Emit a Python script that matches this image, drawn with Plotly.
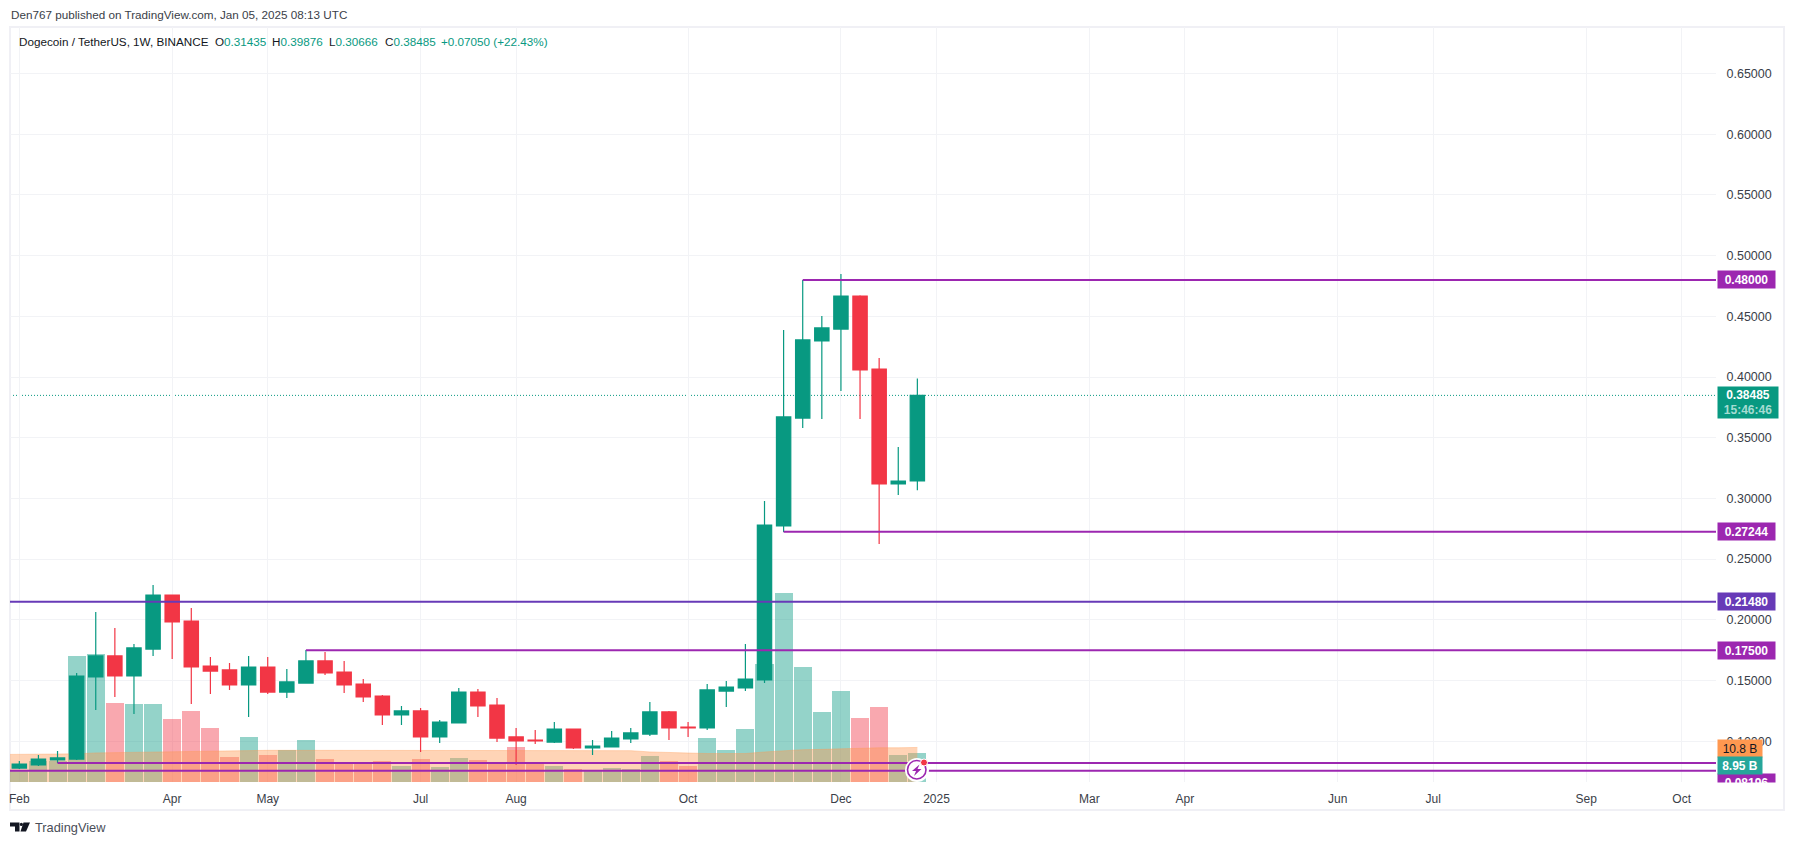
import pandas as pd
import plotly.graph_objects as go

# weekly DOGE/USDT candles
week_start = "2024-02-05"
opens = [0.0779, 0.0804, 0.0845, 0.0853, 0.1529, 0.1702, 0.1537, 0.1759, 0.2204, 0.1990, 0.1619, 0.1587,
         0.1463, 0.1611, 0.1405, 0.1479, 0.1661, 0.1570, 0.1471, 0.1372, 0.1216, 0.1249, 0.1035, 0.1150,
         0.1405, 0.1298, 0.1035, 0.1010, 0.0993, 0.1100, 0.0944, 0.0952, 0.1018, 0.1059, 0.1241, 0.1117,
         0.1109, 0.1413, 0.1438, 0.1504, 0.2773, 0.3662, 0.4297, 0.4395, 0.4667, 0.4066, 0.3119, 0.31435]
highs = [0.0837, 0.0886, 0.0919, 0.1562, 0.2064, 0.1932, 0.1801, 0.2287, 0.2206, 0.2097, 0.1694, 0.1644,
         0.1702, 0.1694, 0.1595, 0.1751, 0.1735, 0.1661, 0.1512, 0.1381, 0.1290, 0.1274, 0.1175, 0.1438,
         0.1430, 0.1356, 0.1109, 0.1092, 0.1158, 0.1100, 0.1010, 0.1084, 0.1109, 0.1323, 0.1249, 0.1158,
         0.1471, 0.1496, 0.1801, 0.2979, 0.4387, 0.4799, 0.4502, 0.4848, 0.4674, 0.4157, 0.3423, 0.39876]
lows = [0.0771, 0.0795, 0.0820, 0.0845, 0.1257, 0.1364, 0.1224, 0.1702, 0.1677, 0.1306, 0.1389, 0.1422,
        0.1199, 0.1389, 0.1356, 0.1479, 0.1545, 0.1397, 0.1323, 0.1133, 0.1133, 0.0911, 0.0985, 0.1150,
        0.1199, 0.0993, 0.0804, 0.0977, 0.0985, 0.0936, 0.0886, 0.0952, 0.0985, 0.1043, 0.1010, 0.1035,
        0.1092, 0.1282, 0.1413, 0.1479, 0.2723, 0.3580, 0.3654, 0.3885, 0.3654, 0.2624, 0.3028, 0.30666]
closes = [0.0812, 0.0853, 0.0862, 0.1537, 0.1702, 0.1537, 0.1768, 0.2204, 0.1982, 0.1611, 0.1578, 0.1463,
          0.1611, 0.1405, 0.1488, 0.1661, 0.1562, 0.1463, 0.1364, 0.1216, 0.1249, 0.1035, 0.1158, 0.1405,
          0.1290, 0.1026, 0.1002, 0.1002, 0.1100, 0.0944, 0.0960, 0.1026, 0.1068, 0.1241, 0.1109, 0.1109,
          0.1422, 0.1446, 0.1512, 0.2781, 0.3671, 0.4305, 0.4404, 0.4667, 0.4058, 0.3119, 0.3143, 0.38485]

# volume in billions, and its moving average (one week more, starts off screen)
volumes = [3.75, 6.5, 6.5, 39.3, 39.9, 24.6, 24.3, 24.3, 19.6, 22.1, 16.8, 7.7,
           14.0, 8.3, 9.9, 13.0, 7.1, 5.9, 5.9, 6.5, 4.9, 7.1, 4.6, 7.4,
           6.8, 5.9, 10.8, 5.9, 4.9, 4.0, 3.5, 4.3, 4.0, 8.0, 6.5, 4.9,
           13.6, 9.9, 16.5, 36.8, 59.0, 36.1, 21.8, 28.6, 19.9, 23.6, 8.3, 8.95]
volume_ma = [8.6, 8.6, 8.6, 8.6, 8.8, 9.1, 9.2, 9.4, 9.5, 9.5, 9.6, 9.8, 9.8,
             9.9, 9.9, 9.9, 9.9, 9.9, 9.9, 9.9, 9.9, 9.9, 9.9, 9.9, 9.9, 9.9, 9.9,
             9.9, 9.9, 9.9, 9.9, 9.9, 9.9, 9.8, 9.4, 9.2, 9.0, 8.9, 8.9, 8.9,
             9.4, 9.8, 10.1, 10.2, 10.4, 10.5, 10.7, 10.7, 10.8]

x_ticks = ["2024-02-05", "2024-04-01", "2024-05-06", "2024-07-01", "2024-08-05", "2024-10-07", "2024-12-02",
           "2025-01-06", "2025-03-03", "2025-04-07", "2025-06-02", "2025-07-07", "2025-09-01", "2025-10-06"]
x_labels = ["Feb", "Apr", "May", "Jul", "Aug", "Oct", "Dec", "2025", "Mar", "Apr", "Jun", "Jul", "Sep", "Oct"]
price_ticks = [0.10, 0.15, 0.20, 0.25, 0.30, 0.35, 0.40, 0.45, 0.50, 0.55, 0.60, 0.65]

# horizontal levels: price, first week, colour
level_prices = [0.48, 0.27244, 0.2148, 0.175, 0.08196, 0.0757]
level_starts = ["2024-11-18", "2024-11-11", None, "2024-05-20", "2024-02-19", None]
level_colors = ["#9c27b0", "#9c27b0", "#673ab7", "#9c27b0", "#9c27b0", "#9c27b0"]
level_tags = ["0.48000", "0.27244", "0.21480", "0.17500", None, None]

last_close = 0.38485
UP = "#089981"
DOWN = "#f23645"
TEXT = "#3a3e48"
FONT = "Liberation Sans"
X_MIN, X_MAX = "2024-02-01 14:00", "2025-10-18 14:00"

W, H = 1794, 845
L, R, T, B = 10, 1716, 27, 782


def fx(px):
    return (px - L) / (R - L)


def fy(py):
    return (B - py) / (B - T)


def poly(points):
    return "M" + " L".join(f"{fx(a):.5f},{fy(b):.5f}" for a, b in points) + " Z"


dates = pd.date_range(week_start, periods=len(closes), freq="7D")
ma_dates = pd.date_range("2024-01-29", periods=len(volume_ma), freq="7D")
bar_colors = ["rgba(8,153,129,0.43)" if c >= o else "rgba(242,54,69,0.43)" for o, c in zip(opens, closes)]

fig = go.Figure()
fig.add_trace(go.Bar(x=dates, y=volumes, width=7 * 86400000 * 0.945, marker=dict(color=bar_colors, line_width=0),
                     yaxis="y", showlegend=False))
fig.add_trace(go.Scatter(x=ma_dates, y=volume_ma, mode="lines", line=dict(color="rgba(255,152,80,0.35)", width=1),
                         fill="tozeroy", fillcolor="rgba(255,152,80,0.42)", yaxis="y", showlegend=False))
fig.add_trace(go.Candlestick(x=dates, open=opens, high=highs, low=lows, close=closes, yaxis="y2", showlegend=False,
                             whiskerwidth=0,
                             increasing=dict(line=dict(color=UP, width=1.2), fillcolor=UP),
                             decreasing=dict(line=dict(color=DOWN, width=1.2), fillcolor=DOWN)))

# last price line sits under the candles
fig.add_shape(type="line", xref="paper", yref="y2", x0=0, x1=1, y0=last_close, y1=last_close, layer="below",
              line=dict(color=UP, width=1, dash="1px,2px"))
for price, start, color in zip(level_prices, level_starts, level_colors):
    fig.add_shape(type="line", xref="x", yref="y2", x0=start or X_MIN, x1=X_MAX, y0=price, y1=price,
                  line=dict(color=color, width=2))

# frame around the chart
fig.add_shape(type="rect", xref="paper", yref="paper", x0=fx(10), x1=fx(1784), y0=fy(27), y1=fy(810),
              layer="below", line=dict(color="#f0f0f5", width=2))

# alert icon on the last bar
fig.add_shape(type="circle", xref="paper", yref="paper", x0=fx(905), x1=fx(929), y0=fy(782), y1=fy(758),
              fillcolor="white", line=dict(color="white", width=0))
fig.add_shape(type="circle", xref="paper", yref="paper", x0=fx(907.5), x1=fx(926), y0=fy(779), y1=fy(760.5),
              fillcolor="white", line=dict(color="#9c27b0", width=1.6))
fig.add_shape(type="path", xref="paper", yref="paper", line=dict(width=0), fillcolor="#9c27b0",
              path=poly([(919.5, 764.5), (912, 771), (916, 771), (914, 776), (921.5, 769), (917.5, 769)]))
fig.add_shape(type="circle", xref="paper", yref="paper", x0=fx(920.5), x1=fx(927.5), y0=fy(766), y1=fy(759),
              fillcolor="#f23645", line=dict(color="white", width=1))

# TradingView mark
logo = [[(10, 822.5), (19.5, 822.5), (19.5, 831.5), (15, 831.5), (15, 826.5), (10, 826.5)],
        [(23.5, 822.5), (30, 822.5), (26, 831.5), (20.5, 831.5)]]
for part in logo:
    fig.add_shape(type="path", xref="paper", yref="paper", path=poly(part), fillcolor="#131722", line=dict(width=0))
fig.add_shape(type="circle", xref="paper", yref="paper", x0=fx(19.8), x1=fx(23), y0=fy(826), y1=fy(822.8),
              fillcolor="#131722", line=dict(width=0))


def text_at(px, py, text, color=TEXT, size=11.7):
    fig.add_annotation(xref="paper", yref="paper", x=fx(px), y=fy(py), xanchor="left", yanchor="middle",
                       text=text, showarrow=False, font=dict(family=FONT, size=size, color=color),
                       borderpad=0, align="left")


def tag(py, text, bg, width=55, height=15, color="white", bold=True):
    fig.add_annotation(xref="paper", yref="paper", x=fx(1717), y=fy(py), xanchor="left", yanchor="middle",
                       text=f"<b>{text}</b>" if bold else text, showarrow=False, bgcolor=bg, width=width,
                       height=height, borderpad=1, align="center", valign="middle",
                       font=dict(family=FONT, size=12, color=color))


text_at(10, 14.5, "Den767 published on TradingView.com, Jan 05, 2025 08:13 UTC")
text_at(18, 41.5, "Dogecoin / TetherUS, 1W, BINANCE", color="#131722")
for px, letter, value in [(213.5, "O", "0.31435"), (271, "H", "0.39876"), (328, "L", "0.30666"), (384, "C", "0.38485")]:
    text_at(px, 41.5, f'{letter}<span style="color:{UP}">{value}</span>', color="#131722")
text_at(440, 41.5, "+0.07050 (+22.43%)", color=UP)
text_at(34, 827, "TradingView", color="#4a4e58", size=12.8)

# price tags on the scale
for price, label, color in zip(level_prices, level_tags, level_colors):
    if label:
        tag(B - (price - 0.06639) * 1214, label, color)
tag(402.3, '0.38485<br><span style="color:#a5dcd2">15:46:46</span>', UP, width=58, height=29)
tag(782.5, "0.08196", "#9c27b0")
fig.add_annotation(xref="paper", yref="paper", x=fx(1716), y=fy(782), xanchor="left", yanchor="top", text=" ",
                   showarrow=False, bgcolor="white", width=60, height=18, borderpad=0)
tag(748.5, "10.8 B", "#ff9850", width=42, color="#131722", bold=False)
tag(765, "8.95 B", "#26a69a", width=42)

fig.update_layout(
    width=W, height=H, autosize=False,
    margin=dict(l=L, r=W - R, t=T, b=H - B),
    paper_bgcolor="white", plot_bgcolor="white",
    boxgap=0.25, boxgroupgap=0, bargap=0,
    font=dict(family=FONT, size=12, color=TEXT),
    xaxis=dict(type="date", range=[X_MIN, X_MAX], rangeslider=dict(visible=False), tickmode="array",
               tickvals=x_ticks, ticktext=x_labels, gridcolor="#f2f3f6", gridwidth=1, showline=False, zeroline=False,
               ticks="outside", ticklen=6, tickcolor="rgba(0,0,0,0)", tickfont=dict(family=FONT, size=12, color=TEXT)),
    yaxis=dict(range=[0, 236], visible=False, fixedrange=True),
    yaxis2=dict(overlaying="y", side="right", range=[0.06639, 0.6883], tickmode="array", tickvals=price_ticks,
                ticktext=[f"{p:.5f}" for p in price_ticks], gridcolor="#f2f3f6", gridwidth=1, showline=False,
                zeroline=False, ticks="outside", ticklen=7, tickcolor="rgba(0,0,0,0)",
                tickfont=dict(family=FONT, size=12.5, color=TEXT)),
)

fig.write_html("out.html", config={"displayModeBar": False}, post_script="document.body.style.margin='0';")
